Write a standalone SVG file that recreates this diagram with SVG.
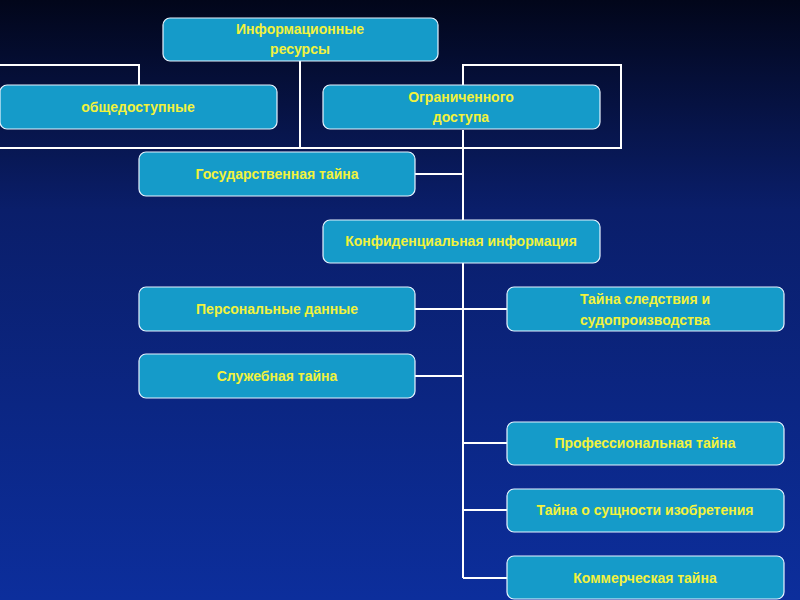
<svg xmlns="http://www.w3.org/2000/svg" width="800" height="600" viewBox="0 0 800 600">
<defs>
<linearGradient id="bg" x1="0" y1="0" x2="0" y2="1">
<stop offset="0" stop-color="#02061a"/><stop offset="0.35" stop-color="#0a1e6a"/><stop offset="1" stop-color="#0c2e9c"/>
</linearGradient>
<style>
.b{fill:#159bc9;stroke:#e8f4ff;stroke-width:1.2}
.t{fill:#f2f23c;font-family:"Liberation Sans",Arial,sans-serif;font-weight:bold;font-size:14px;text-anchor:middle}
.c{stroke:#ffffff;stroke-width:2;fill:none}
</style>
</defs>
<rect width="800" height="600" fill="url(#bg)"/>
<g id="connectors" class="c">
<path d="M0 65H139V85M300 61V148M0 148H621V65H463V85M463 130V578M415 174H463M415 309H507M415 376H463M463 443H507M463 510H507M463 578H507"/>
</g>
<g id="n1"><rect class="b" x="163" y="18" width="275" height="43" rx="7"/><text class="t" x="300" y="34">Информационные</text><text class="t" x="300" y="54">ресурсы</text></g>
<g id="n2"><rect class="b" x="0" y="85" width="277" height="44" rx="7"/><text class="t" x="138" y="112">общедоступные</text></g>
<g id="n3"><rect class="b" x="323" y="85" width="277" height="44" rx="7"/><text class="t" x="461" y="102">Ограниченного</text><text class="t" x="461" y="122">доступа</text></g>
<g id="n4"><rect class="b" x="139" y="152" width="276" height="44" rx="7"/><text class="t" x="277" y="179">Государственная тайна</text></g>
<g id="n5"><rect class="b" x="323" y="220" width="277" height="43" rx="7"/><text class="t" x="461" y="246">Конфиденциальная информация</text></g>
<g id="n6"><rect class="b" x="139" y="287" width="276" height="44" rx="7"/><text class="t" x="277" y="314">Персональные данные</text></g>
<g id="n7"><rect class="b" x="507" y="287" width="277" height="44" rx="7"/><text class="t" x="645" y="304">Тайна следствия и</text><text class="t" x="645" y="325">судопроизводства</text></g>
<g id="n8"><rect class="b" x="139" y="354" width="276" height="44" rx="7"/><text class="t" x="277" y="381">Служебная тайна</text></g>
<g id="n9"><rect class="b" x="507" y="422" width="277" height="43" rx="7"/><text class="t" x="645" y="448">Профессиональная тайна</text></g>
<g id="n10"><rect class="b" x="507" y="489" width="277" height="43" rx="7"/><text class="t" x="645" y="515">Тайна о сущности изобретения</text></g>
<g id="n11"><rect class="b" x="507" y="556" width="277" height="43" rx="7"/><text class="t" x="645" y="583">Коммерческая тайна</text></g>
</svg>
